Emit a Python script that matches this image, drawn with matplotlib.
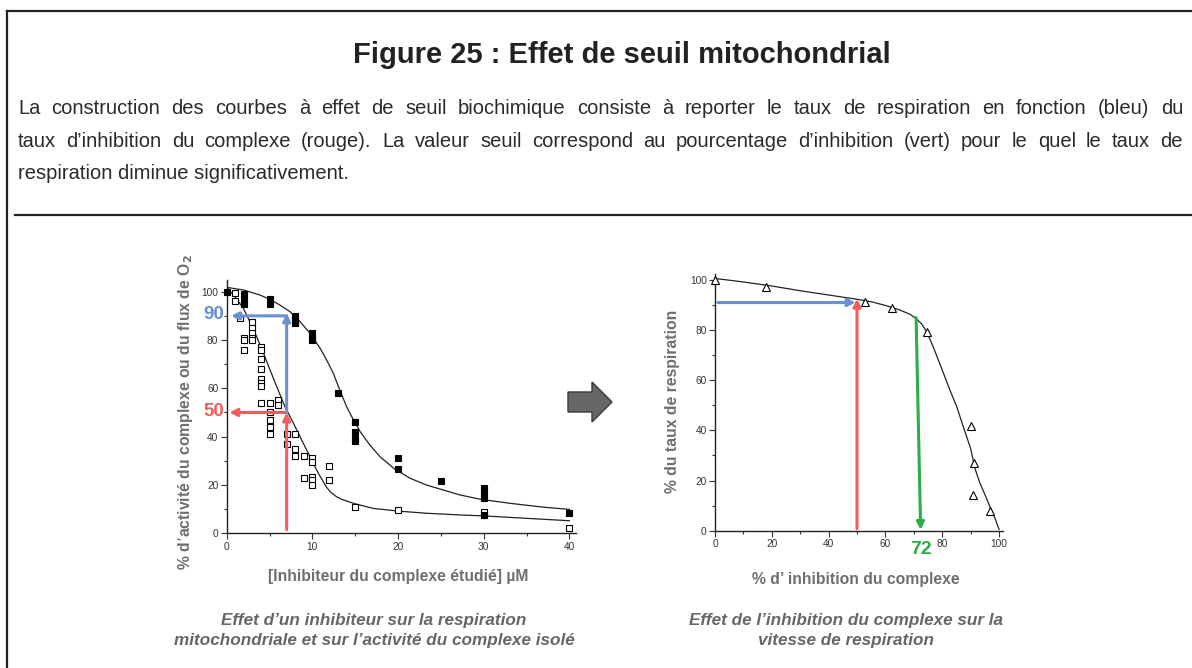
import matplotlib
matplotlib.use("Agg")
import matplotlib.pyplot as plt
from matplotlib.lines import Line2D
from matplotlib.patches import Polygon
from matplotlib.ticker import MultipleLocator

plt.rcParams['font.family'] = ['Liberation Sans', 'DejaVu Sans']

# --- left chart: inhibitor concentration vs activity / O2 flux ---
resp_x = [0, 2, 2, 2, 5, 5, 8, 8, 8, 10, 10, 10, 13, 15, 15, 15, 15, 20, 20, 25, 30, 30, 30, 30, 40]
resp_y = [100, 99, 97, 95, 97, 95, 90, 88, 87, 83, 81, 80, 58, 46, 42, 39, 38, 31, 26.5, 21.7, 18.6, 16.5, 14.5, 7.5, 8.3]

cplx_x = [1, 1, 1.5, 2, 2, 2, 3, 3, 3, 3, 3, 4, 4, 4, 4, 4, 4, 4, 4, 5, 5, 5, 5, 5,
          6, 6, 7, 7, 8, 8, 8, 9, 9, 10, 10, 10, 10, 10, 12, 12, 15, 20, 30, 40]
cplx_y = [99.6, 96.3, 89, 81, 80, 76, 87.5, 85, 83, 81, 80, 77, 76, 72, 68, 64, 62, 61, 54, 54, 50, 47, 44, 41,
          55, 53, 41, 37, 41, 35, 32, 32, 23, 31, 29.5, 23.5, 22, 20, 28, 22, 11, 9.7, 9, 2]

# fitted curves
resp_fit_x = [0, 1.95, 3.9, 5.06, 6.2, 7.4, 8.56, 9.73, 10.9, 11.67, 12.45, 13.2, 14, 14.8, 15.6,
              16.7, 17.9, 19.5, 21.4, 23.3, 25.3, 27.2, 29.6, 33.1, 37, 40]
resp_fit_y = [101.8, 100.7, 98.6, 96.8, 94.5, 91.7, 87.6, 82.8, 76.6, 71.7, 66.2, 59.3, 52.4, 46.9, 42,
              36.6, 31.7, 26.9, 22.8, 20, 17.9, 15.9, 14.1, 12.4, 10.8, 9.9]
cplx_fit_x = [0, 0.97, 1.95, 2.7, 3.5, 4.3, 5.06, 5.84, 6.8, 7.8, 8.75, 9.73, 10.7, 11.67, 12.2, 12.8,
              13.4, 14.8, 17.1, 20, 23.3, 27.2, 30, 35, 40]
cplx_fit_y = [101.8, 97.9, 93.1, 87.6, 81.4, 74.5, 67.6, 60.7, 52.4, 45.5, 38.6, 31.7, 24.8, 19, 16.8, 15.2,
              14.1, 12.4, 10.3, 9.2, 8.3, 7.6, 7.2, 6.2, 5.2]

# --- right chart: % inhibition vs respiration rate ---
inhib_x = [0, 18, 52.8, 62.4, 74.5, 90, 91.2, 91, 96.8]
inhib_y = [100, 97, 91.4, 89, 79.4, 41.8, 26.9, 14.2, 8]
inhib_fit_x = [0, 10, 20, 30, 40, 50, 55.8, 60.1, 65.1, 68.7, 71, 72.8, 74.5, 76.9, 80, 82.7,
               85.1, 87.4, 90, 91.5, 93.3, 95.1, 96.8, 98.6, 100]
inhib_fit_y = [100.6, 99.2, 97.6, 95.7, 94, 92.3, 91.1, 89.8, 88, 86.3, 84.4, 82.4, 79.4, 73.1, 64.1, 56.1,
               49.5, 41.5, 32.8, 24.9, 18.9, 14.2, 9.6, 4.9, 0.5]

BLUE = '#6C8FCF'
RED = '#F25C5C'
GREEN = '#2BAE47'
LABEL_GREY = '#6e6e6e'
TICK_COL = '#333333'
W, H = 1192, 668

fig = plt.figure(figsize=(11.92, 6.68), dpi=100)

# frame of the page
fig.add_artist(Line2D([7/W, 7/W], [0, 1 - 11/H], color='#222222', lw=1.6))
fig.add_artist(Line2D([7/W, 1], [1 - 11/H, 1 - 11/H], color='#222222', lw=1.6))
fig.add_artist(Line2D([15/W, 1], [1 - 215/H, 1 - 215/H], color='#222222', lw=1.6))

fig.text(622/W, 1 - 63/H, 'Figure 25 : Effet de seuil mitochondrial',
         ha='center', va='baseline', fontsize=21, fontweight='bold', color='#222222')

body = [
    'La construction des courbes à effet de seuil biochimique consiste à reporter le taux de respiration en fonction (bleu) du',
    'taux d’inhibition du complexe (rouge). La valeur seuil correspond au pourcentage d’inhibition (vert) pour le quel le taux de',
    'respiration diminue significativement.',
]
body_base = [114, 147, 179]
x_left, x_right = 18, 1183
renderer = fig.canvas.get_renderer()

# pick the largest size whose natural line width still fits the column
fs = 14.5
while fs > 9:
    widest = 0
    for line in body[:2]:
        t = fig.text(0, 0, line, fontsize=fs)
        widest = max(widest, t.get_window_extent(renderer).width)
        t.remove()
    if widest <= x_right - x_left:
        break
    fs -= 0.25

for k, line in enumerate(body):
    y = 1 - body_base[k] / H
    if k == len(body) - 1:
        fig.text(x_left / W, y, line, ha='left', va='baseline', fontsize=fs, color='#2a2a2a')
        continue
    words = line.split(' ')
    txts = [fig.text(0, y, w, ha='left', va='baseline', fontsize=fs, color='#2a2a2a') for w in words]
    widths = [t.get_window_extent(renderer).width for t in txts]
    gap = (x_right - x_left - sum(widths)) / (len(words) - 1)
    xpos = x_left
    for t, w in zip(txts, widths):
        t.set_x(xpos / W)
        xpos += w + gap


def style_axes(ax):
    for s in ('top', 'right'):
        ax.spines[s].set_visible(False)
    for s in ('left', 'bottom'):
        ax.spines[s].set_linewidth(1.0)
        ax.spines[s].set_color('#222222')
    ax.tick_params(which='major', direction='out', length=4, width=0.8, labelsize=7.3, colors=TICK_COL, pad=2)
    ax.tick_params(which='minor', direction='out', length=2.5, width=0.8, colors=TICK_COL)


lab = dict(fontsize=11.3, fontweight='bold', color=LABEL_GREY)

# left chart
ax1 = fig.add_axes([226.7/W, 1 - 533.3/H, 349.5/W, 253.7/H])
ax1.plot(cplx_fit_x, cplx_fit_y, color='#222222', lw=0.9)
ax1.plot(resp_fit_x, resp_fit_y, color='#222222', lw=0.9)
ax1.plot(cplx_x, cplx_y, 's', ms=4.3, mfc='white', mec='black', mew=0.8, clip_on=False, zorder=3)
ax1.plot(resp_x, resp_y, 's', ms=4.5, mfc='black', mec='black', mew=0.8, clip_on=False, zorder=3)
ax1.set_xlim(0, 40.8)
ax1.set_ylim(0, 105)
ax1.xaxis.set_major_locator(MultipleLocator(10))
ax1.xaxis.set_minor_locator(MultipleLocator(5))
ax1.yaxis.set_major_locator(MultipleLocator(20))
ax1.yaxis.set_minor_locator(MultipleLocator(10))
style_axes(ax1)
ax1.set_xlabel('[Inhibiteur du complexe étudié] µM', **lab)
ax1.xaxis.label.set_va('center')
ax1.xaxis.set_label_coords(0.49, -0.172)
ax1.set_ylabel('% d’activité du complexe ou du flux de O$_\\mathbf{2}$', **lab)
ax1.yaxis.label.set_va('center')
ax1.yaxis.set_label_coords(-0.119, 0.478)

arrow = dict(arrowstyle='-|>', lw=2.2, mutation_scale=11, shrinkA=0, shrinkB=0)
ax1.annotate('', xy=(7, 50), xytext=(7, 1.5), arrowprops=dict(arrow, color=RED), annotation_clip=False)
ax1.annotate('', xy=(0.3, 50), xytext=(7, 50), arrowprops=dict(arrow, color=RED), annotation_clip=False)
ax1.annotate('', xy=(7, 91), xytext=(7, 50), arrowprops=dict(arrow, color=BLUE), annotation_clip=False)
ax1.annotate('', xy=(0.5, 90), xytext=(7, 90), arrowprops=dict(arrow, color=BLUE), annotation_clip=False)
ax1.text(-0.036, 90.5, '90', transform=ax1.get_yaxis_transform(), ha='center', va='center',
         fontsize=13.5, fontweight='bold', color=BLUE)
ax1.text(-0.036, 50.5, '50', transform=ax1.get_yaxis_transform(), ha='center', va='center',
         fontsize=13.5, fontweight='bold', color=RED)

# right chart
ax2 = fig.add_axes([715/W, 1 - 530.7/H, 288.3/W, 257/H])
ax2.plot(inhib_fit_x, inhib_fit_y, color='#222222', lw=0.9)
ax2.plot(inhib_x, inhib_y, '^', ms=5.5, mfc='white', mec='black', mew=0.8, clip_on=False, zorder=3)
ax2.set_xlim(0, 101.5)
ax2.set_ylim(0, 102.5)
ax2.xaxis.set_major_locator(MultipleLocator(20))
ax2.xaxis.set_minor_locator(MultipleLocator(10))
ax2.yaxis.set_major_locator(MultipleLocator(20))
ax2.yaxis.set_minor_locator(MultipleLocator(10))
style_axes(ax2)
ax2.set_xlabel('% d’ inhibition du complexe', **lab)
ax2.xaxis.label.set_va('center')
ax2.xaxis.set_label_coords(0.489, -0.188)
ax2.set_ylabel('% du taux de respiration', **lab)
ax2.yaxis.label.set_va('center')
ax2.yaxis.set_label_coords(-0.149, 0.505)

ax2.annotate('', xy=(49.5, 91), xytext=(1, 91), arrowprops=dict(arrow, color=BLUE), annotation_clip=False)
ax2.annotate('', xy=(50, 92.5), xytext=(50, 0.8), arrowprops=dict(arrow, color=RED), annotation_clip=False)
ax2.annotate('', xy=(72.4, 0.3), xytext=(70.8, 85), arrowprops=dict(arrow, color=GREEN), annotation_clip=False)
ax2.text(72.5, -0.072, '72', transform=ax2.get_xaxis_transform(), ha='center', va='center',
         fontsize=14, fontweight='bold', color=GREEN)

# grey block arrow between the charts
pts = [(568, 392), (592, 392), (592, 382), (612, 402), (592, 422), (592, 412), (568, 412)]
fig.add_artist(Polygon([(px / W, 1 - py / H) for px, py in pts], closed=True,
                       facecolor='#676767', edgecolor='#3a3a3a', lw=1.0, transform=fig.transFigure))

# captions
cap = dict(ha='center', va='center', fontsize=12.3, fontweight='bold', fontstyle='italic', color='#666666')
fig.text(374/W, 1 - 621/H, 'Effet d’un inhibiteur sur la respiration', **cap)
fig.text(374/W, 1 - 641/H, 'mitochondriale et sur l’activité du complexe isolé', **cap)
fig.text(846/W, 1 - 621/H, 'Effet de l’inhibition du complexe sur la', **cap)
fig.text(846/W, 1 - 641/H, 'vitesse de respiration', **cap)

fig.savefig('out.png', dpi=100)
